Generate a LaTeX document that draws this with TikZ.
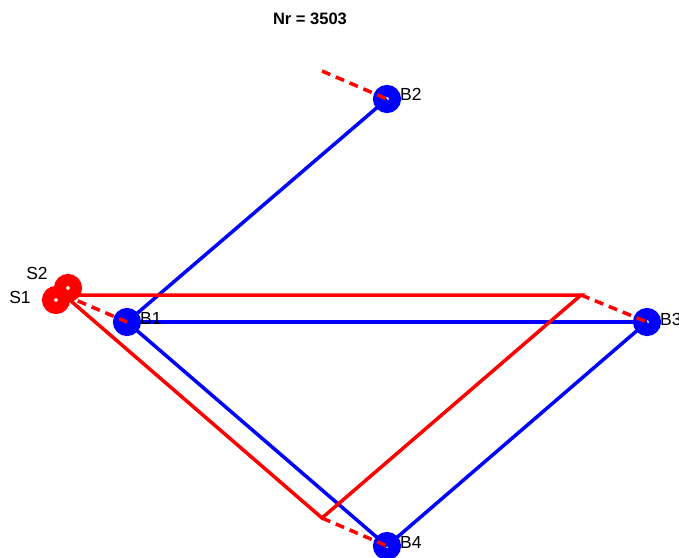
\documentclass[tikz,border=0pt]{standalone}
\usepackage{fontspec}
\setmainfont{Liberation Sans}
\begin{document}
\begin{tikzpicture}[x=1pt,y=-1pt,
  bline/.style={draw={rgb,255:red,0;green,0;blue,255},line width=3.5pt},
  rline/.style={draw={rgb,255:red,255;green,0;blue,0},line width=3.5pt},
  rdash/.style={rline,dash pattern=on 9pt off 6pt},
  bmark/.style={circle,draw={rgb,255:red,0;green,0;blue,255},line width=12pt,minimum size=16pt,inner sep=0pt,outer sep=0pt},
  smark/.style={circle,draw={rgb,255:red,255;green,0;blue,0},line width=12pt,minimum size=16pt,inner sep=0pt,outer sep=0pt},
  lab/.style={font=\fontsize{17.5}{20}\selectfont,inner sep=0pt}]
\useasboundingbox (0,0) rectangle (679,557);
\clip (0,0) rectangle (679,557);
\node[font=\bfseries\fontsize{16.5}{19}\selectfont] (title) at (310,19) {Nr = 3503};
% positions
\coordinate (B1p) at (127,322);
\coordinate (B2p) at (387,99);
\coordinate (B3p) at (647,322);
\coordinate (B4p) at (387,546);
\coordinate (R1) at (64,295);
\coordinate (R2) at (581,295);
\coordinate (R3) at (322,518);
\coordinate (I2) at (322,71);
% blue lines
\draw[bline] (B1p) -- (B2p);
\draw[bline] (B1p) -- (B3p);
\draw[bline] (B1p) -- (B4p);
\draw[bline] (B4p) -- (B3p);
% blue markers
\node[bmark] (B1) at (B1p) {};
\node[bmark] (B2) at (B2p) {};
\node[bmark] (B3) at (B3p) {};
\node[bmark] (B4) at (B4p) {};
% red path
\draw[rline,line join=miter] (R1) -- (R2) -- (R3) -- cycle;
\draw[rdash] (I2) -- (B2.center);
\draw[rdash] (R1) -- (B1.center);
\draw[rdash] (R2) -- (B3.center);
\draw[rdash] (R3) -- (B4.center);
% red markers
\node[smark] (S1) at (56,300) {};
\node[smark] (S2) at (68,288) {};
% labels
\node[lab,anchor=west] (l1) at (140,318) {B1};
\node[lab,anchor=west] (l2) at (400,94) {B2};
\node[lab,anchor=west] (l3) at (660,319) {B3};
\node[lab,anchor=west] (l4) at (400,542) {B4};
\node[lab] (ls1) at (20,297) {S1};
\node[lab] (ls2) at (37,273) {S2};
\end{tikzpicture}
\end{document}
